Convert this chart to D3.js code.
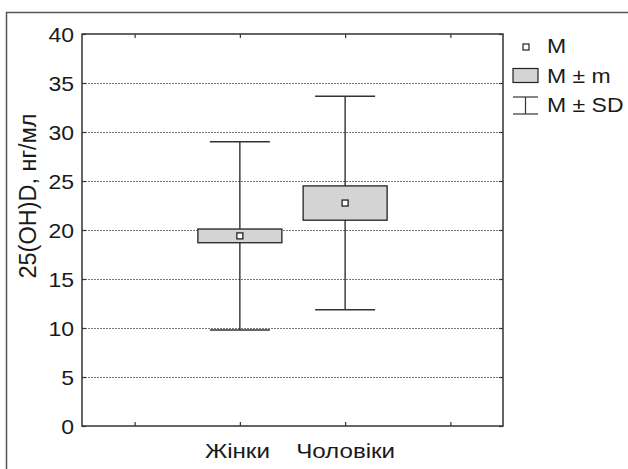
<!DOCTYPE html>
<html>
<head>
<meta charset="utf-8">
<script src="https://cdn.jsdelivr.net/npm/d3@7"></script>
<style>
  html, body { margin: 0; padding: 0; background: #fff; }
  svg { display: block; }
  text { font-family: "Liberation Sans", Arial, sans-serif; fill: #1a1a1a; }
</style>
</head>
<body>
<svg id="chart" width="628" height="469"></svg>
<script>
// Groups and summary statistics of serum 25(OH)D
const groups = ["Жінки", "Чоловіки"];
const means = [19.4, 22.75];      // M
const sems = [0.7, 1.75];         // m (standard error)
const sds = [9.6, 10.9];          // SD
const yTicks = [0, 5, 10, 15, 20, 25, 30, 35, 40];
const yLabel = "25(OH)D, нг/мл";
const legendLabels = ["M", "M ± m", "M ± SD"];

const FONT = '"Liberation Sans", Arial, sans-serif';
const FS = 20;         // font size
const WIDEN = 1.15;    // horizontal stretch of the lettering

const svg = d3.select("#chart");
const plot = { left: 82, right: 503, top: 34, bottom: 426 };

// Outer frame (extends past the page edges on the right and bottom)
svg.append("rect")
  .attr("x", 6.5).attr("y", 12.5)
  .attr("width", 700).attr("height", 600)
  .attr("fill", "none").attr("stroke", "#555").attr("stroke-width", 1.5);

// Categorical positions sit on a numeric axis with empty slots at both ends
const x = d3.scaleLinear().domain([0.5, 4.5]).range([plot.left, plot.right]);
const y = d3.scaleLinear().domain([0, 40]).range([plot.bottom, plot.top]);
const xPos = i => x(i + 2);

// Gridlines
svg.append("g")
  .selectAll("line")
  .data(yTicks.filter(t => t > 0 && t < 40))
  .join("line")
  .attr("x1", plot.left).attr("x2", plot.right)
  .attr("y1", d => y(d) + 0.5).attr("y2", d => y(d) + 0.5)
  .attr("stroke", "#777").attr("stroke-width", 1)
  .attr("stroke-dasharray", "2,1");

// Axes with inward ticks
const yAxisL = d3.axisLeft(y).tickValues(yTicks).tickSize(-4).tickPadding(0);
const yAxisR = d3.axisRight(y).tickValues(yTicks).tickSize(-4).tickFormat("");
const xAxisB = d3.axisBottom(x).tickValues([1, 2, 3, 4]).tickSize(-4)
  .tickFormat(d => (d >= 2 && d <= 3) ? groups[d - 2] : "").tickPadding(0);
const xAxisT = d3.axisTop(x).tickValues([1, 2, 3, 4]).tickSize(-4).tickFormat("");

function styleAxis(g) {
  g.select(".domain").remove();
  g.selectAll(".tick line").attr("stroke", "#333").attr("stroke-width", 1.2);
  g.selectAll("text").style("font-size", FS + "px")
    .style("font-family", FONT).attr("fill", "#1a1a1a");
}

svg.append("g").attr("transform", `translate(${plot.left},0)`).call(yAxisL).call(styleAxis)
  .selectAll(".tick text")
  .attr("x", 0).attr("dy", "0.36em")
  .attr("transform", `translate(-8,0) scale(${WIDEN},1)`);
svg.append("g").attr("transform", `translate(${plot.right},0)`).call(yAxisR).call(styleAxis);
svg.append("g").attr("transform", `translate(0,${plot.bottom})`).call(xAxisB).call(styleAxis)
  .selectAll(".tick text")
  .style("font-size", "21px")
  .attr("y", 0).attr("dy", 0)
  .attr("transform", (d) => `translate(${d === 2 ? -3 : 0},31.5) scale(${WIDEN},1)`);
svg.append("g").attr("transform", `translate(0,${plot.top})`).call(xAxisT).call(styleAxis);

// Plot border
svg.append("rect")
  .attr("x", plot.left).attr("y", plot.top)
  .attr("width", plot.right - plot.left).attr("height", plot.bottom - plot.top)
  .attr("fill", "none").attr("stroke", "#333").attr("stroke-width", 1.5);

// Y axis title
svg.append("text")
  .attr("transform", `translate(35.5,196) rotate(-90)`)
  .attr("text-anchor", "middle")
  .style("font-size", "23.5px")
  .text(yLabel);

// Whiskers (M ± SD), boxes (M ± m) and mean markers
const boxHalf = 42;
const capHalf = 30;
const g = svg.append("g");
groups.forEach((name, i) => {
  const cx = xPos(i);
  const lo = means[i] - sds[i], hi = means[i] + sds[i];
  g.append("line").attr("x1", cx).attr("x2", cx)
    .attr("y1", y(hi)).attr("y2", y(lo))
    .attr("stroke", "#222").attr("stroke-width", 1.3);
  [lo, hi].forEach(v => {
    g.append("line").attr("x1", cx - capHalf).attr("x2", cx + capHalf)
      .attr("y1", y(v)).attr("y2", y(v))
      .attr("stroke", "#333").attr("stroke-width", 1.5);
  });
  g.append("rect")
    .attr("x", cx - boxHalf).attr("width", boxHalf * 2)
    .attr("y", y(means[i] + sems[i]))
    .attr("height", y(means[i] - sems[i]) - y(means[i] + sems[i]))
    .attr("fill", "#d4d4d4").attr("stroke", "#222").attr("stroke-width", 1.3);
  g.append("rect")
    .attr("x", cx - 3).attr("y", y(means[i]) - 3)
    .attr("width", 6).attr("height", 6)
    .attr("fill", "#fff").attr("stroke", "#222").attr("stroke-width", 1.3);
});

// Legend
const lg = svg.append("g").attr("transform", "translate(513,0)");
lg.append("rect").attr("x", 10).attr("y", 44).attr("width", 6).attr("height", 6)
  .attr("fill", "#fff").attr("stroke", "#222").attr("stroke-width", 1.2);
lg.append("rect").attr("x", 0).attr("y", 68.5).attr("width", 25).attr("height", 14)
  .attr("fill", "#d4d4d4").attr("stroke", "#222").attr("stroke-width", 1.2);
lg.append("line").attr("x1", 0).attr("x2", 25).attr("y1", 97).attr("y2", 97)
  .attr("stroke", "#333").attr("stroke-width", 1.2);
lg.append("line").attr("x1", 0).attr("x2", 25).attr("y1", 114).attr("y2", 114)
  .attr("stroke", "#333").attr("stroke-width", 1.2);
lg.append("line").attr("x1", 12.5).attr("x2", 12.5).attr("y1", 97).attr("y2", 114)
  .attr("stroke", "#333").attr("stroke-width", 1.2);
lg.selectAll("text.leg")
  .data(legendLabels)
  .join("text")
  .attr("class", "leg")
  .attr("transform", (d, i) => `translate(34,${53 + i * 29.5}) scale(${WIDEN},1)`)
  .style("font-size", FS + "px")
  .text(d => d);
</script>
</body>
</html>
